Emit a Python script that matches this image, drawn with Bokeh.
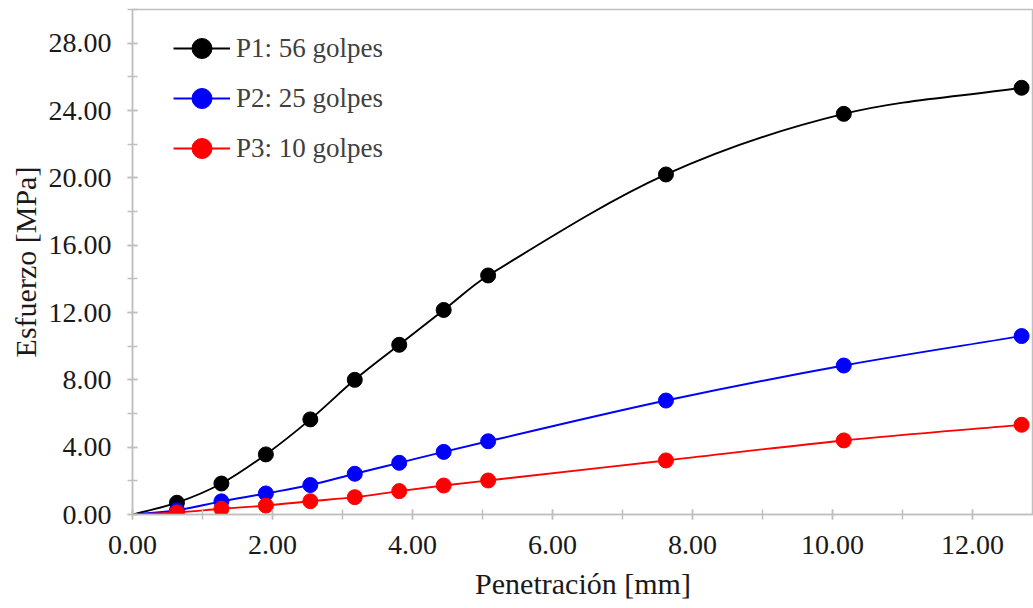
from bokeh.plotting import figure
from bokeh.models import (Range1d, SingleIntervalTicker, NumeralTickFormatter,
                          ColumnDataSource, Legend, LegendItem)
from bokeh.embed import file_html
from bokeh.resources import INLINE

# ---------------- data ----------------
penetracion = [0.0, 0.635, 1.27, 1.905, 2.54, 3.175, 3.81, 4.445, 5.08, 7.62, 10.16, 12.70]
p1_56 = [0.0, 0.70, 1.84, 3.57, 5.65, 8.00, 10.08, 12.15, 14.20, 20.20, 23.80, 25.35]
p2_25 = [0.0, 0.25, 0.78, 1.25, 1.75, 2.42, 3.07, 3.72, 4.35, 6.77, 8.85, 10.60]
p3_10 = [0.0, 0.12, 0.34, 0.53, 0.79, 1.03, 1.39, 1.72, 2.02, 3.21, 4.40, 5.33]
series_labels = ["P1: 56 golpes", "P2: 25 golpes", "P3: 10 golpes"]
series_colors = ["#000000", "#0000ff", "#ff0000"]

SERIF = "Liberation Serif"

p = figure(width=1033, height=606, output_backend="svg", toolbar_location=None,
           x_range=Range1d(0, 12.87), y_range=Range1d(0, 30.0),
           min_border_left=132, min_border_right=0, min_border_top=9,
           min_border_bottom=92)
p.grid.visible = False
p.outline_line_color = "#bfbfbf"
p.outline_line_width = 1.5
p.background_fill_color = "white"
p.border_fill_color = "white"

for ax in (p.xaxis[0], p.yaxis[0]):
    ax.axis_line_color = "#bfbfbf"
    ax.axis_line_width = 1.5
    ax.major_tick_line_color = "#bfbfbf"
    ax.minor_tick_line_color = "#bfbfbf"
    ax.major_tick_line_width = 1.5
    ax.minor_tick_line_width = 1.5
    ax.major_tick_in = 5
    ax.major_tick_out = 5
    ax.minor_tick_in = 5
    ax.minor_tick_out = 5
    ax.major_label_text_font = SERIF
    ax.major_label_text_font_size = "28px"
    ax.major_label_text_color = "#1a1a1a"
    ax.axis_label_text_font = SERIF
    ax.axis_label_text_font_size = "30px"
    ax.axis_label_text_font_style = "normal"
    ax.axis_label_text_color = "#1a1a1a"
    ax.formatter = NumeralTickFormatter(format="0.00")

p.xaxis[0].ticker = SingleIntervalTicker(interval=2, num_minor_ticks=2)
p.yaxis[0].ticker = SingleIntervalTicker(interval=4, num_minor_ticks=2)
p.xaxis[0].axis_label = "Penetración [mm]"
p.yaxis[0].axis_label = "Esfuerzo [MPa]"
p.xaxis[0].major_label_standoff = 16
p.yaxis[0].major_label_standoff = 16
p.xaxis[0].axis_label_standoff = 10
p.yaxis[0].axis_label_standoff = 4


def bezier_segments(xs, ys):
    """Cubic Hermite (as Bezier) segments with tangents from neighbouring points."""
    n = len(xs)
    slopes = []
    for i in range(n):
        a = max(i - 1, 0)
        b = min(i + 1, n - 1)
        slopes.append((ys[b] - ys[a]) / (xs[b] - xs[a]))
    x0, y0, x1, y1, cx0, cy0, cx1, cy1 = [], [], [], [], [], [], [], []
    for i in range(n - 1):
        h = (xs[i + 1] - xs[i]) / 3.0
        x0.append(xs[i]); y0.append(ys[i])
        x1.append(xs[i + 1]); y1.append(ys[i + 1])
        cx0.append(xs[i] + h); cy0.append(ys[i] + slopes[i] * h)
        cx1.append(xs[i + 1] - h); cy1.append(ys[i + 1] - slopes[i + 1] * h)
    return dict(x0=x0, y0=y0, x1=x1, y1=y1, cx0=cx0, cy0=cy0, cx1=cx1, cy1=cy1)


items = []
for ys, lab, col in zip([p1_56, p2_25, p3_10], series_labels, series_colors):
    src = ColumnDataSource(bezier_segments(penetracion, ys))
    bz = p.bezier(x0="x0", y0="y0", x1="x1", y1="y1", cx0="cx0", cy0="cy0",
                  cx1="cx1", cy1="cy1", source=src, line_color=col, line_width=1.9)
    sc = p.scatter(penetracion[1:], ys[1:], size=15, fill_color=col, line_color=col)
    items.append(LegendItem(label=lab, renderers=[bz, sc], index=0))

legend = Legend(items=items, location=(41, 341), orientation="vertical",
                glyph_width=57, glyph_height=50, label_height=50, spacing=0,
                padding=0, margin=0, label_standoff=6,
                label_text_font=SERIF, label_text_font_size="27px",
                label_text_color="#404040", border_line_alpha=0,
                background_fill_alpha=0)
p.add_layout(legend, "center")

open("out.html", "w").write(file_html(p, INLINE))
